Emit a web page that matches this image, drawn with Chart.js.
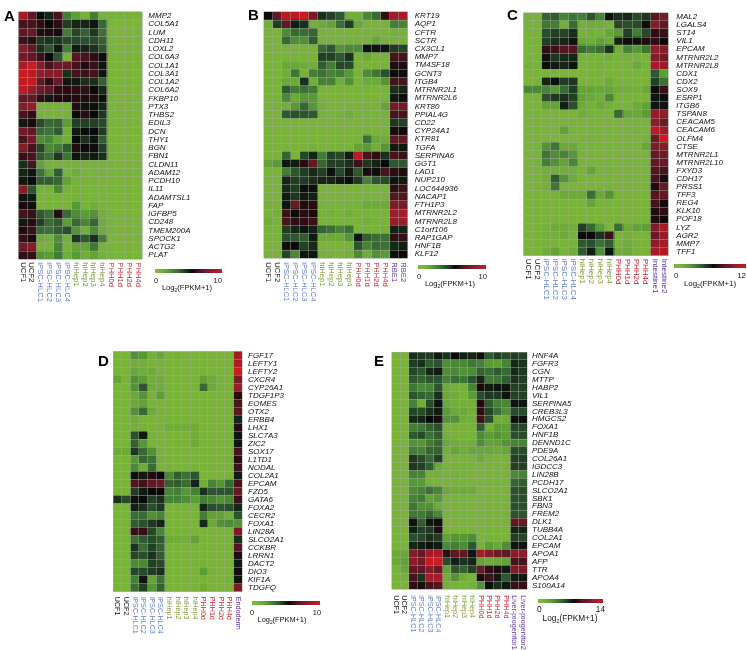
<!DOCTYPE html>
<html><head><meta charset="utf-8">
<script src="https://cdn.jsdelivr.net/npm/chart.js@4"></script>
<style>html,body{margin:0;padding:0;background:#fff;width:747px;height:650px;overflow:hidden}
canvas{position:absolute;left:0;top:0;filter:blur(0.35px)}</style></head><body>
<script>
const hlc=['iPSC-HLC1','iPSC-HLC2','iPSC-HLC3','iPSC-HLC4'];
const hep=['hiHep1','hiHep2','hiHep3','hiHep4'];
const phh=['PHH0d','PHH1d','PHH2d','PHH4d'];
const samplesA=['UCF1','UCF2',...hlc,...hep,...phh];
const samplesB=['UCF1','UCF2',...hlc,...hep,...phh,'RBE1','RBE2'];
const samplesC=['UCF1','UCF2',...hlc,...hep,...phh,'Intestine1','Intestine2'];
const samplesD=['UCF1','UCF2',...hlc,...hep,...phh,'Endoderm'];
const samplesE=['UCF1','UCF2',...hlc,...hep,...phh,'Liver-progenitor1','Liver-progenitor2'];

const genesA=['MMP2','COL5A1','LUM','CDH11','LOXL2','COL6A3','COL1A1','COL3A1','COL1A2','COL6A2','FKBP10','PTX3','THBS2','EDIL3','DCN','THY1','BGN','FBN1','CLDN11','ADAM12','PCDH10','IL11','ADAMTSL1','FAP','IGFBP5','CD248','TMEM200A','SPOCK1','ACTG2','PLAT'];
const genesB=['KRT19','AQP1','CFTR','SCTR','CX3CL1','MMP7','TM4SF18','GCNT3','ITGB4','MTRNR2L1','MTRNR2L6','KRT80','PPIAL4G','CD22','CYP24A1','KTR81','TGFA','SERPINA6','GGT1','LAD1','NUP210','LOC644936','NACAP1','FTH1P3','MTRNR2L2','MTRNR2L8','C1orf106','RAP1GAP','HNF1B','KLF12'];
const genesC=['MAL2','LGALS4','ST14','VIL1','EPCAM','MTRNR2L2','MTRNR2L8','CDX1','CDX2','SOX9','ESRP1','ITGB6','TSPAN8','CEACAM5','CEACAM6','OLFM4','CTSE','MTRNR2L1','MTRNR2L10','FXYD3','CDH17','PRSS1','TFF3','REG4','KLK10','POF18','LYZ','AGR2','MMP7','TFF1'];
const genesD=['FGF17','LEFTY1','LEFTY2','CXCR4','CYP26A1','TDGF1P3','EOMES','OTX2','ERBB4','LHX1','SLC7A3','ZIC2','SOX17','L1TD1','NODAL','COL2A1','EPCAM','FZD5','GATA6','FOXA2','CECR2','FOXA1','LIN28A','SLCO2A1','CCKBR','LRRN1','DACT2','DIO3','KIF1A','TDGFQ'];
const genesE=['HNF4A','FGFR3','CGN','MTTP','HABP2','VIL1','SERPINA5','CREB3L3','HMGCS2','FOXA1','HNF1B','DENND1C','PDE9A','COL26A1','IGDCC3','LIN28B','PCDH17','SLCO2A1','SBK1','FBN3','FREM2','DLK1','TUBB4A','COL2A1','EPCAM','APOA1','AFP','TTR','APOA4','S100A14'];

/* shade readings, 0..10 across each panel's colour bar */
const valuesA=[
[9,7,5.5,5,6.5,3,2,1,3,1,1,1,1,1],
[6.5,6.5,6,5.5,6,4.5,5,5,5.3,3.5,.6,.6,.6,.6],
[7,7.2,5.8,5.8,5.7,3,4.3,3.7,4.6,3.3,.6,.6,.6,.6],
[6.3,6,4.6,4.7,4.6,4.2,4.2,4.1,4.2,3.7,.7,.7,.7,.7],
[8,7,4.8,4,5.2,3,5.2,5,4.7,4,.7,.7,.7,.9],
[7.5,7,6.2,5.5,4,1,6.8,6.5,6,5.6,.8,.8,.8,.8],
[9,10,8,6.5,7.3,7.3,6.5,5.8,6.2,5.3,.9,.8,.8,.9],
[10,9.5,8.5,8,8,4.8,6.5,6.3,6.5,5.3,.7,.7,.7,.7],
[9.8,9.8,7,6,7.3,5.2,5.2,4.8,4.8,3.7,.7,.7,.7,.7],
[9.7,8.5,7.5,7,6,5.9,6,6,5.5,4.9,.7,.7,.7,.7],
[7,7,6,5.2,5.8,5.8,5.8,5.8,5.8,5.4,.7,.7,.7,.7],
[8,8.5,1,1,1,1,5.9,5.3,5.4,5,.7,.9,.7,.7],
[6.5,6,1,1,1,1,5.5,5.9,5.5,4.6,.7,.7,.7,.7],
[5.2,5.7,4.2,3.5,3.6,2,4.4,4.4,4.4,4.2,.7,.7,.7,.7],
[7.5,7,3.5,3.3,3.8,1.2,5.2,5.5,5.5,4.5,.7,.7,.7,.9],
[6.5,7.5,2.5,2.8,1.8,1.2,5.5,4.8,5.3,3.8,.7,.7,.7,.7],
[8,6.5,4.3,2.6,3,3.8,5.8,5.5,5.6,4.4,.7,.7,.7,.7],
[6.2,6.5,3.9,3.3,4.6,3.2,5.3,5,5.2,4.8,.7,.7,.7,.9],
[4.8,6.5,1.8,1,1,1,1,1,1,1,.8,.8,.8,.8],
[5,5.3,3.3,1.8,3.8,.8,1.3,.8,.9,1,.7,.7,.7,.7],
[5.2,5.5,3.8,3.8,3.6,1.8,1,1,.8,.9,.7,.7,.7,.7],
[8,4,1,1,2.7,1,1,.8,.7,.7,.7,.7,.7,.7],
[5.3,5.2,.8,.8,.8,.8,1,1,.9,.9,.7,.7,.7,.7],
[5.7,5.4,.8,.8,.8,.8,2.2,.9,1.3,.9,.7,.7,.7,.7],
[6.5,6.2,3.9,3.4,5.9,3.5,2.5,2,2.3,1.2,.7,.7,.7,.7],
[5.2,5.9,4.4,3.4,3.8,2,3.5,2.7,3.6,1.3,.7,.7,.7,.7],
[5.8,6.2,3.5,3.3,3.8,4.1,2.3,1.2,2.6,1.3,.7,.7,.7,.7],
[6.2,5.7,1.3,1.1,2.5,1.1,4.6,3.9,4.8,3,.7,.7,.7,.7],
[7.5,8,1,1,2.8,1,1.8,1.7,3.1,1,.7,.7,.7,.7],
[6,6.1,2.3,2,3.1,1.3,2.1,1.3,1.7,1.1,.7,.7,.7,.7]];
const valuesB=[
[5.5,7,9.5,9.5,10,7.5,4.8,4.4,3.9,1.3,1.2,2.7,3.5,6,9,9],
[1.2,4.5,7,5.2,4.8,1.2,1.5,1.8,3.4,4.5,1.5,.8,.8,1,3,2.8],
[.8,.8,2.6,3.5,3.4,3.6,.8,.8,.8,.8,.8,.8,.8,.8,1.1,1.1],
[.8,.8,3.5,2.5,2.5,3.8,1,1,1,1,.9,1,1.6,1,1,1],
[.8,.8,.9,.9,.9,.9,3.5,3.9,2.3,2.6,2.6,5.3,5.3,5.3,4.5,4.3],
[.8,.8,.9,.9,.9,.9,4.4,4.4,3.9,4.7,1,1.5,.9,1,6.5,6.5],
[.8,.8,1.5,1.5,1.3,1.3,3.8,3,4.3,4.2,.9,.9,.9,1,5.8,5.8],
[.8,.8,1.3,3.2,1.1,3,3.3,2.8,3,2.2,1,2.6,3.2,4.1,5.4,5.4],
[.8,.8,1.5,1.4,4.8,1.2,2.9,2.9,1.3,2.4,.9,1.4,1.4,2.3,6.5,6.5],
[.8,.8,3.9,3.1,3.3,3.1,.8,.8,.8,.8,.8,.8,.8,.8,4.8,5],
[.8,.8,2.7,1.4,2.1,2.1,.8,.8,.8,.8,.8,.8,.8,.8,5.2,5.4],
[.8,1,1.2,2.2,3.5,2.2,1.2,.8,.8,.8,.9,1,1,1.7,7.5,7.5],
[.8,.8,3.9,4.1,4,3.9,1,.8,1,1.3,.8,.8,.8,1,6.5,6.5],
[.8,.8,.8,.8,.8,.8,.8,.8,.8,.8,.8,.8,.8,.8,4.6,4.4],
[.8,.8,.8,.8,.8,.8,.8,.8,.8,.8,.8,.8,.8,.8,5.7,5.6],
[.8,.8,.8,.8,.8,.8,.8,.8,.8,.8,.8,3.3,1.5,1.3,7,7],
[.8,.8,.8,.8,.8,1.1,.9,.9,.8,.8,1.7,2.1,1.2,2.2,5.2,5.2],
[.8,.8,3.6,.9,4.3,5,3,4.4,4.2,5.2,9.5,6.5,6,4.8,6.5,6.3],
[1.7,2.1,5.3,5.2,5.9,7,3.6,4.5,4.4,4.8,6.3,4.6,5,5.5,3.9,3.9],
[.8,.8,3,4,4.5,4.9,4.4,5.4,4.2,5.2,3.9,5.7,5.6,6.5,6,5.8],
[.8,.8,5,4.5,4.5,4.8,5,5,5.2,5.4,4.5,2.9,4,4.2,5.3,5.2],
[.8,.8,4.9,4.5,5.4,5.4,.8,.8,.8,.8,.8,.8,.8,.8,6,6.4],
[.8,.8,5.2,4.6,5.2,5.1,.8,.8,.8,.8,.8,.8,.8,.8,6.8,6.7],
[1.1,.9,5.3,7.2,5.8,5.9,.9,.9,.9,.9,1,1.4,1.4,1.4,7.8,7.6],
[.8,1.1,6.3,5.5,5.9,5.7,.9,1.1,.9,1.2,.8,1,1,1,8.6,9],
[1.3,.9,6.5,6,6,6.3,.9,.9,.9,.9,.8,1.2,.9,.9,8.5,8.6],
[.8,.8,4.5,5,5.3,5.1,3.7,3.4,2.9,3.3,.8,.8,.8,1.1,5.1,5],
[.8,.8,4.1,3.9,3.8,5.2,1.4,1.4,1.4,2.3,5.3,3.7,3.4,3.3,6,6.1],
[.8,.8,5.4,5.5,4.4,4.9,.9,.8,.8,.9,4,2.8,3.5,3.3,4.9,5.1],
[.8,.8,4.3,2.7,5.3,5.3,1.1,1,1,1.1,2.6,1.3,2.4,2.1,5.4,5.5]];
const valuesC=[
[1.1,1,3.6,3.8,2.8,3.2,3,4,2.8,5.3,4.8,4.9,4.2,4.6,6.8,7.5],
[1,.9,3.2,3,1.2,3.4,1.1,1.3,1.2,1,4.3,4.1,4.2,5.4,8,7],
[.9,.9,4.1,4.4,4.3,4.8,1,1.1,1,1.6,2,4.4,3,4.2,6,6.2],
[.9,.9,4.4,4.8,4.9,5.3,1.5,1.3,1.8,1.4,5,5.4,5.4,5.8,6,5.5],
[.9,.9,6,6.3,6.8,6.8,3.4,3.1,3.4,4.7,1.2,2.8,2.2,3.2,8.5,8],
[.9,.9,5.3,4.6,4.9,5,1,1,1,1.2,.9,1.1,1,1,8,7.5],
[1.1,.9,5.4,5.2,5,5.3,.9,.9,1.1,.9,.9,1,1.5,1,9,8.7],
[.8,.8,.7,.7,.7,.7,.8,.8,.8,.8,.8,.8,.8,.8,3.9,2],
[.8,.8,5,5.4,4.5,4.6,.9,.9,.9,1.4,.8,.8,.8,.8,4.4,3.3],
[2.7,2.7,2.8,2.2,3.5,4.5,1.7,1.7,1.6,1.6,1.3,1.2,1.1,1.5,5.6,6.2],
[.8,.8,4.1,4.6,4.8,4.4,1.7,1.5,1.2,2.7,.8,.8,.8,1,5.3,5.4],
[.8,.8,1.8,1.7,5.1,4.1,1.3,1.1,1.5,1.2,.8,.8,1.4,1.8,5.3,5.3],
[.8,.8,.8,.8,.8,.8,1.3,.9,.9,.9,3.5,1.6,1.5,2,8.7,8.4],
[.8,.8,.8,.8,.8,.8,.8,.8,.8,.8,.8,.8,.8,.8,8.2,7.4],
[.8,.8,.9,.9,1.8,.9,.8,.8,.8,.8,.8,.9,1,.9,9.5,8.8],
[.8,.8,.7,.7,.7,.7,.8,1,.9,.7,.8,.8,.8,.8,7.3,10],
[.8,.8,2.3,3.2,1.4,1.5,.8,.8,.8,.8,.8,.8,.8,1.6,7.8,8],
[.8,.8,3.2,2.5,2.8,2.2,.8,.8,.8,.8,.8,.8,.8,.8,7.2,7.4],
[.8,.8,3,2.4,1.7,2.8,.8,.8,.8,.8,.8,.8,.8,.8,7,7.2],
[.8,.8,1.2,1.2,1.2,1.2,1,1.7,.9,1,.8,.8,.8,.8,6.7,6.5],
[.8,.8,1.2,3.8,2.4,1.4,.8,.8,.8,.8,.8,.8,.8,.8,6.5,5.7],
[.8,.8,1.2,3.2,.9,.9,.8,.8,.8,.8,.8,.8,.8,.8,5.8,7.2],
[.8,.8,.8,1,1.4,1.4,1.4,3.4,1.5,2.3,.8,.8,.8,.8,6.8,7.2],
[.8,.8,.8,.8,.8,.8,.8,1.7,.9,.9,.8,.8,.8,.8,6.5,5.6],
[.8,.8,.9,.8,.8,.8,.8,.8,.8,.8,.8,.8,.8,.8,5.8,6],
[.8,.8,.8,.8,.8,.8,.8,.8,.8,.8,.8,.8,.8,.8,5.8,5.5],
[.8,.8,1.1,1.4,1.4,1.2,4.4,3.5,2,.9,3.4,1.4,1.8,1.9,7.8,9],
[.8,.8,1.1,1.1,1.4,1,5.5,5.5,4.7,6.3,.9,1.1,.9,.9,7.3,8.5],
[.8,.8,1,.9,.9,.9,3.9,4.1,3.3,3.8,.9,1.3,.9,.9,8.2,9],
[.8,.8,1.3,1.7,1,1.3,3.9,5.1,2.5,5.3,1.3,1.5,1,1,9,9.3]];
const valuesD=[
[.9,.9,2.4,2.2,1.1,1.6,.9,1.1,.9,.8,.8,.8,.8,.9,9],
[.8,.8,1.2,1.2,.9,1,.8,.8,.8,.8,.8,.9,.8,.8,9.3],
[.8,.8,1.6,1.3,1.4,1,.8,.8,.8,.8,.8,.8,.8,.8,10],
[1.7,.8,2.4,2,1.2,1.3,.8,.8,.8,.8,1.8,1.4,.8,.8,7.7],
[.8,.8,2.4,4,1.3,1.3,.8,.8,.8,.8,3.5,1.4,.8,.8,8.7],
[.8,.8,1.5,2.3,1,2,.8,.8,.8,.8,.8,.8,.8,.8,5.9],
[.8,.8,1.5,1.8,.9,.9,.8,.8,.8,.8,.8,.8,.8,.8,6.6],
[.8,.8,2.4,3.5,1.4,1,.8,.8,.8,.8,.8,.8,.8,.8,6.9],
[.8,.8,1.3,.9,.9,.9,.8,.8,.8,.8,.8,.8,.8,.8,5],
[.8,.8,1.2,1.1,.9,1,1.3,1.3,1.3,1.4,.8,.8,.8,.8,5.9],
[.8,.8,4.1,5.2,1,.9,.8,.8,.8,1.3,.8,.8,.8,.8,5.3],
[.8,.8,3.7,2.2,.9,.9,.9,1,.9,1.4,.8,.8,.8,.8,5.3],
[1.4,1.4,4.6,3.5,2.4,1,.8,.8,.8,.8,.8,.8,.8,.8,6.5],
[.8,.8,2.2,3.6,3.3,1.1,.8,.8,.8,.8,.8,.8,.8,1,5.9],
[.8,.8,2.6,1.3,3.4,.9,1,.9,.9,.9,.8,.8,.8,.8,6.3],
[.8,.8,5.4,5.2,5.8,5.5,2.7,3.8,3.3,4,.8,.8,.8,.8,5.2],
[.8,.8,6.7,6.4,7,7.2,3.7,3.8,3.4,5,1.3,2.8,2.3,3.5,6.5],
[.8,.8,4.5,5.2,5.5,5.5,2.8,3,2.2,2.9,4.7,4,4,4,7.2],
[4.8,4.2,5.4,5.5,4.4,4.8,2.8,2.8,2.5,2,3,2.8,2.4,2.7,6.3],
[.8,.8,5.1,4.8,4.1,4.6,.9,.9,.9,1,5,4.1,4,4.1,4.9],
[.8,.8,3.4,3.4,2.4,2.8,.8,.8,.8,.8,3,1.8,1.8,1.2,4],
[.8,.8,3.8,4.1,4.6,5,.8,.8,.8,.8,4.9,1.5,2.4,2.6,2.3],
[.8,.8,6.2,6.1,4.3,2.8,.8,.8,.8,.8,.8,.8,.8,.8,7.8],
[.8,.8,3.3,3.9,4.2,3.9,1.4,1.3,1.2,1.8,.8,.8,.8,.8,4.8],
[.8,.8,4.7,3.4,4.4,3.7,.8,.8,.8,.8,.8,.8,.8,.8,6.8],
[.8,.8,4.3,4.1,4.7,3.8,.8,.8,.8,.8,.8,.8,.8,.8,5.8],
[.8,.8,2.6,2.7,4.4,4.2,.8,.8,.8,.8,1,.8,.8,.8,5.2],
[.8,.8,4.3,4.2,4.5,4.8,.8,.8,.8,.8,2,1,.8,.8,5.6],
[.8,.8,3,5.3,1.7,3.3,.8,.8,.8,.8,.8,.8,.8,1,5.3],
[.8,.8,3.4,4.4,2.2,3.7,.8,.8,.8,.8,1.4,.9,.8,.8,7.8]];
const valuesE=[
[.8,.8,4.8,4.6,4.5,5.2,4.7,5.5,5.1,5,5.4,3.9,4.4,4.2,4.5,4.4],
[.8,.8,4.5,4.8,3.8,4.1,2.5,2.7,2.7,3.2,2.9,2.1,1.9,2.8,4.9,4.7],
[.8,.8,4.3,4,4.9,5.2,2.5,2.7,2.4,2.6,3.7,3.4,3.9,3.5,4.9,4.6],
[.8,.8,4,3.7,4,4,2.8,3.4,3.2,4,5,3.1,3.2,3.8,4.8,4.5],
[.8,.8,3.2,2.6,2.8,4,1.4,1.1,1.1,2.8,5.7,5.2,5.3,5.3,4.4,4.4],
[.8,.8,4,3.7,3.5,4.8,1.5,1.3,1,2.1,4.2,4.6,4.6,5.3,4.4,4.4],
[.8,.8,2.9,1.2,4.2,5.3,1.5,1.2,1.2,1.2,5.8,3.8,2.9,2.7,5.3,5.3],
[.8,.8,4.3,4.2,4.8,5.2,2.1,1.4,1.5,1.2,6,4.3,3.3,2.4,4.2,4.2],
[.8,.8,4.9,5,5.5,5.7,2.4,2.4,1.2,1.2,6.3,4.2,1.3,1.3,5.4,5.4],
[.8,.8,3,3.1,3.7,4.1,1,1,1,.9,3.8,1.2,2,1.9,4.3,4.3],
[.8,.8,3.9,4.2,3.3,3.8,1.1,1,1,.9,2.6,2,2.4,2,4.1,4.2],
[.8,.8,2.4,2.3,3.1,3.5,1.5,1.3,1.2,1.2,2.5,1.8,1.8,2.3,2.8,2.8],
[.8,.8,3,2.8,3.6,3.7,1.2,1.7,1.3,1.6,1.6,1.6,1.4,1.6,4.2,4.2],
[.8,.8,4.6,4.2,3.5,4.4,.9,.9,.9,.9,1.4,1,.9,.9,4.4,4.4],
[.8,.8,4.6,4.4,3.8,1.4,.9,.9,.9,.9,.8,.8,.8,.8,4.4,4.4],
[.8,.8,2.8,2.8,1.1,1.1,1,1.1,.9,.9,.8,.8,.8,.8,2.6,2.8],
[.8,.8,2.2,2.1,1,.9,.8,.8,.8,.8,.8,.8,.8,.8,3.6,3.8],
[.8,.8,2.6,2.9,3.3,2.8,1.5,1.3,1.4,1.4,.8,.8,.8,.8,4.1,4.1],
[.8,.8,2.8,3.1,1.7,2.2,.8,.8,.8,.8,.8,.8,.8,.8,4.1,4.1],
[.8,.8,3.2,2.4,2.4,1.3,.8,.8,.8,.8,.8,.8,.8,.8,4.1,4.1],
[.8,.8,3.1,3.1,3.5,2.7,.8,.8,.8,.8,.8,.8,.8,.8,4,4],
[.8,.8,5.3,3.8,5.3,5.4,.8,.8,.8,.8,.8,.8,.8,.8,7,7.2],
[.8,.8,5.1,4.4,4.6,5.8,.8,.8,.8,.8,.8,.8,.8,.8,5,5],
[.8,.8,4.1,4.3,4.7,4.5,1.8,2.3,2.2,2.5,.8,.8,.8,.8,4.4,4.3],
[.8,.8,5,5.2,5.4,5.2,2.6,3,2.6,3.9,1.1,2,1.5,2.5,5.3,5.3],
[1.5,1.5,8,7.2,9,9,6,7,7,5.3,9,8,7.3,7,8.2,8.3],
[1.5,1.8,8.3,7.5,10,10,4.2,5.1,4.7,5,1.8,1.3,1.5,1.7,6.5,6.5],
[1,1.6,7,7,8,7.2,1.8,4,3.7,4.4,7.2,6,5.7,5.2,7.8,7.8],
[.8,1.1,6.5,4.7,9,9,1.2,2.3,1.3,1,5.7,6.3,5.2,3.9,5.2,5.2],
[.8,.8,6,5.7,6.5,6.8,1.2,1,.9,1.1,2.4,5.4,4.8,5.2,6.2,6.2]];

const FONT='"Liberation Sans", Arial, sans-serif';
const stops=[[0,[128,185,60]],[1,[120,178,58]],[2,[92,158,54]],[3,[66,126,54]],[4,[44,84,46]],[5,[20,36,22]],[5.5,[10,10,10]],[6,[46,14,20]],[7,[96,24,36]],[8,[132,28,42]],[9,[165,28,40]],[10,[203,26,32]]];
function shade(v){
  for(let i=1;i<stops.length;i++){
    if(v<=stops[i][0]){
      const [a,ca]=stops[i-1],[b,cb]=stops[i],t=(v-a)/(b-a);
      return `rgb(${ca.map((c,k)=>Math.round(c+(cb[k]-c)*t)).join(',')})`;
    }
  }
  return 'rgb(203,26,32)';
}
function sampleColor(s){
  if(s.startsWith('iPSC'))return '#5f7fc8';
  if(s.startsWith('hiHep'))return '#7f9a2c';
  if(s.startsWith('PHH'))return '#cc2333';
  if(s.startsWith('UCF'))return '#111';
  return '#5b2d9e';
}
const heatPanel={
  id:'heatPanel',
  afterDraw(chart,args,o){
    const ctx=chart.ctx,x=chart.scales.x,a=chart.chartArea,s=chart.data.datasets;
    ctx.save();
    ctx.font=`${o.sampleFs}px ${FONT}`;ctx.textAlign='left';ctx.textBaseline='middle';
    s.forEach((d,i)=>{
      ctx.save();
      ctx.translate(x.getPixelForValue(i+.5),a.bottom+o.sampleGap);
      ctx.rotate(Math.PI/2);ctx.fillStyle=sampleColor(d.label);
      ctx.fillText(d.label,0,0);ctx.restore();
    });
    const b=o.bar;
    const g=ctx.createLinearGradient(b.x0,0,b.x1,0);
    stops.forEach(p=>g.addColorStop(p[0]/10,`rgb(${p[1].join(',')})`));
    ctx.fillStyle=g;ctx.fillRect(b.x0,b.y,b.x1-b.x0,b.h);
    ctx.fillStyle='#111';ctx.font=`${b.fs}px ${FONT}`;ctx.textBaseline='alphabetic';
    ctx.textAlign='left';ctx.fillText('0',b.zeroX,b.numY);
    ctx.textAlign='right';ctx.fillText(String(o.max),b.maxX,b.numY);
    ctx.textAlign='left';
    const p1='Log',p2='2',p3='(FPKM+1)';
    const w1=ctx.measureText(p1).width,w3=ctx.measureText(p3).width;
    ctx.font=`${b.fs*.65}px ${FONT}`;const w2=ctx.measureText(p2).width;
    let tx=b.cx-(w1+w2+w3)/2;
    ctx.font=`${b.fs}px ${FONT}`;ctx.fillText(p1,tx,b.logY);tx+=w1;
    ctx.font=`${b.fs*.65}px ${FONT}`;ctx.fillText(p2,tx,b.logY+2);tx+=w2;
    ctx.font=`${b.fs}px ${FONT}`;ctx.fillText(p3,tx,b.logY);
    ctx.font=`bold 15px ${FONT}`;ctx.fillStyle='#000';
    ctx.fillText(o.letter,o.letterX,o.letterY);
    ctx.restore();
  }
};
function panel(letter,samples,genes,values,max,box,sampleGap,sampleFs,geneGap,bar,lx,ly){
  const cv=document.createElement('canvas');cv.width=747;cv.height=650;document.body.appendChild(cv);
  const axisW=120,axisH=10;
  const gridColor='rgba(165,170,160,.9)';
  new Chart(cv,{
    type:'bar',
    data:{labels:genes,datasets:samples.map((s,i)=>({
      label:s,
      data:genes.map(()=>1),
      backgroundColor:values.map(r=>shade(r[i])),
      borderWidth:0,barPercentage:1,categoryPercentage:1,stack:'s'
    }))},
    plugins:[heatPanel],
    options:{
      indexAxis:'y',responsive:false,animation:false,devicePixelRatio:1,
      layout:{padding:{left:box.l,top:box.t,right:747-box.r-axisW,bottom:650-box.b-axisH}},
      plugins:{legend:{display:false},tooltip:{enabled:false},title:{display:false},
        heatPanel:{letter,max,sampleGap,sampleFs,bar,letterX:lx,letterY:ly}},
      scales:{
        x:{type:'linear',stacked:true,min:0,max:samples.length,position:'bottom',
          afterFit(s){s.height=axisH;},
          ticks:{display:false,stepSize:1,autoSkip:false},
          border:{display:false},
          grid:{color:gridColor,lineWidth:.5,z:1,drawTicks:false}},
        y:{type:'category',stacked:true,position:'right',
          afterFit(s){s.width=axisW;},
          border:{display:false},
          grid:{color:gridColor,lineWidth:.5,z:1,drawTicks:false},
          ticks:{autoSkip:false,padding:geneGap,color:'#111',crossAlign:'near',
            font:{family:FONT,size:8,style:'italic'}}}
      }
    }
  });
}
panel('A',samplesA,genesA,valuesA,10,{l:18.3,r:142.3,t:11.7,b:259.3},3,7.7,6,{x0:155,x1:222,y:269,h:4,fs:7.6,zeroX:154,maxX:222,numY:283,cx:187,logY:290},4,21);
panel('B',samplesB,genesB,valuesB,10,{l:263.7,r:407.7,t:6,b:258.3},4,7.6,7,{x0:418,x1:486,y:265,h:4,fs:7.6,zeroX:417,maxX:487,numY:279,cx:450,logY:286},248,20);
panel('C',samplesC,genesC,valuesC,12,{l:523.3,r:668.3,t:1.3,b:255.7},3,8,8,{x0:674,x1:746,y:264,h:4,fs:7.9,zeroX:674,maxX:746,numY:278,cx:710,logY:286},507,20);
panel('D',samplesD,genesD,valuesD,10,{l:113,r:242,t:351.3,b:591.7},5,7.2,6,{x0:252,x1:320,y:601,h:4,fs:7.4,zeroX:250,maxX:321,numY:615,cx:282,logY:622},98,366);
panel('E',samplesE,genesE,valuesE,14,{l:391.7,r:527,t:352,b:589.3},6,7.2,5,{x0:538,x1:603,y:599,h:4,fs:8.3,zeroX:537,maxX:605,numY:612,cx:570,logY:621},374,366);
</script></body></html>
